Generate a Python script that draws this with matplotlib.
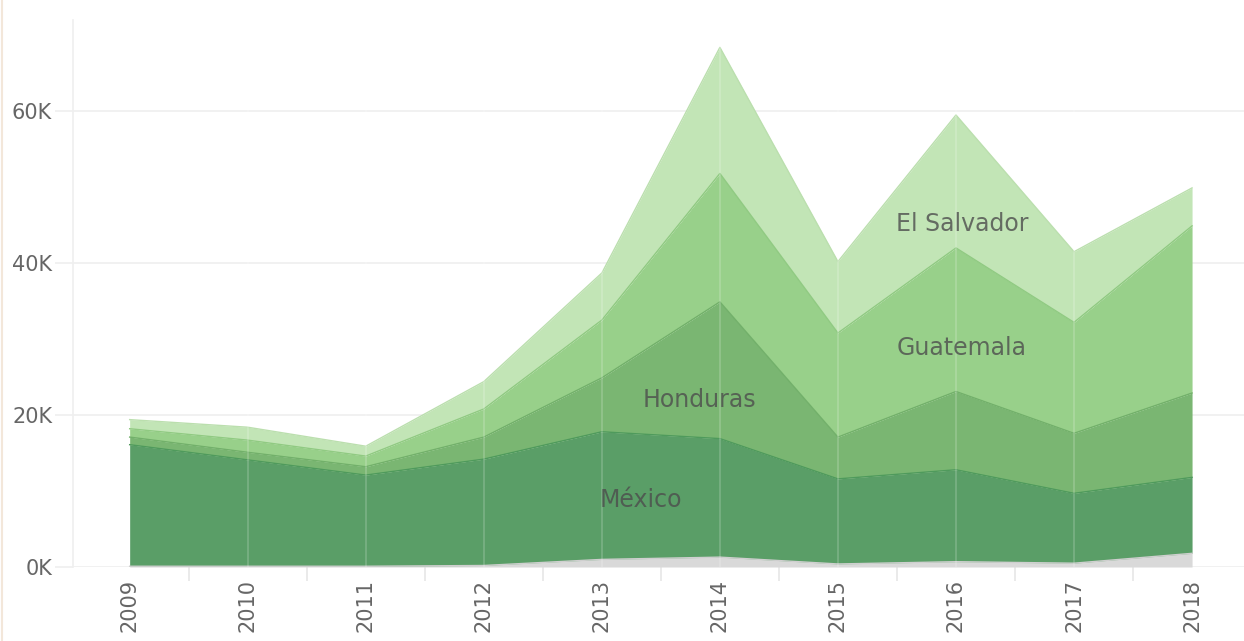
import matplotlib
matplotlib.use("Agg")
import matplotlib.pyplot as plt
from matplotlib.lines import Line2D
from matplotlib.ticker import FuncFormatter, MultipleLocator
import numpy as np

years = [2009, 2010, 2011, 2012, 2013, 2014, 2015, 2016, 2017, 2018]
series_names = ["Otros", "México", "Honduras", "Guatemala", "El Salvador"]
otros = [100, 100, 100, 200, 1000, 1300, 400, 700, 500, 1800]
mexico = [16000, 14000, 12000, 14000, 16800, 15600, 11200, 12100, 9200, 10000]
honduras = [1000, 1000, 1100, 2900, 7100, 18000, 5500, 10300, 7900, 11100]
guatemala = [1100, 1600, 1400, 3700, 7600, 16900, 13700, 18900, 14600, 22000]
el_salvador = [1200, 1700, 1300, 3600, 6200, 16600, 9400, 17500, 9300, 5000]
y_ticks = [0, 20000, 40000, 60000]

colors = ["#d9d9d9", "#5a9e67", "#7ab672", "#98d08a", "#c2e5b6"]
edge_colors = ["#cfcfcf", "#4f9a5c", "#72b06a", "#90ca82", "#bbdfae"]

fig = plt.figure(figsize=(12.44, 6.41), dpi=100)
ax = fig.add_axes([73 / 1244, 1 - 567 / 641, 1 - 73 / 1244, (567 - 20) / 641])

data = [otros, mexico, honduras, guatemala, el_salvador]
x = np.array(years)
base = np.zeros(len(years))
tops = []
for vals, c in zip(data, colors):
    top = base + np.array(vals)
    ax.fill_between(x, base, top, color=c, lw=0, zorder=2)
    tops.append(top)
    base = top
for top, ec in zip(tops, edge_colors):
    ax.plot(x, top, color=ec, lw=1.0, zorder=3)

# vertical light lines over the areas
for yr in years[1:-1]:
    ax.axvline(yr, color="white", alpha=0.2, lw=1.2, zorder=4)

ax.set_xlim(2008.52, 2018.44)
ax.set_ylim(0, 72000)

ax.set_yticks(y_ticks)
ax.yaxis.set_major_formatter(FuncFormatter(lambda v, p: f"{int(v/1000)}K"))
ax.grid(axis="y", color="#efefef", lw=1.2, zorder=0)
ax.set_axisbelow(True)

ax.set_xticks(years)
ax.set_xticklabels([str(y) for y in years], rotation=90)
ax.xaxis.set_minor_locator(MultipleLocator(1, offset=0.5))
ax.tick_params(axis="x", which="major", length=0, pad=8.5, labelsize=15, labelcolor="#666666")
ax.tick_params(axis="x", which="minor", length=10, color="#e6e6e6", width=1.2)
ax.tick_params(axis="y", which="major", length=13, color="#efefef", width=1.2, pad=2,
               labelsize=15, labelcolor="#666666")

for s in ["top", "right", "bottom"]:
    ax.spines[s].set_visible(False)
ax.spines["left"].set_color("#efefef")
ax.spines["left"].set_linewidth(1.2)

label_kw = dict(ha="center", va="center", fontsize=17, color="#4d4d4d", alpha=0.8, zorder=5)
ax.text(2016.05, 45200, "El Salvador", **label_kw)
ax.text(2016.05, 28800, "Guatemala", **label_kw)
ax.text(2013.83, 22000, "Honduras", **label_kw)
ax.text(2013.33, 8800, "México", **label_kw)

fig.add_artist(Line2D([0.002, 0.002], [0, 1], color="#f3e7da", lw=1.5, transform=fig.transFigure))

fig.savefig("out.png", dpi=100, facecolor="white")
